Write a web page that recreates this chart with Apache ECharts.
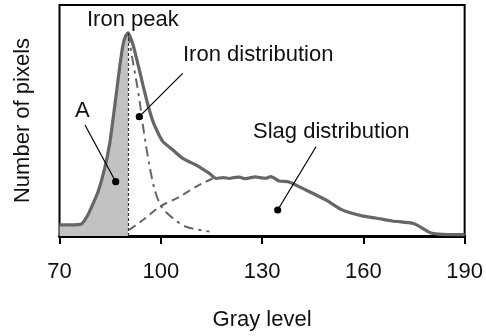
<!DOCTYPE html>
<html>
<head>
<meta charset="utf-8">
<script src="https://cdn.jsdelivr.net/npm/echarts@6/dist/echarts.min.js"></script>
<style>
html,body{margin:0;padding:0;background:#fff;}
#c{width:486px;height:336px;}
</style>
</head>
<body>
<div id="c"></div>
<script>
// Gray level ticks
var xTicks = [70, 100, 130, 160, 190];
// Total histogram (gray level, relative number of pixels)
var totalGray = [70, 73.1, 76.5, 78.4, 79.9, 81.4, 83.4, 84.9, 85.9, 86.9, 87.9, 88.8, 89.6, 90.3, 91.0, 91.8, 93.3, 94.7, 96.2, 97.7, 99.2, 100.6, 103.6, 106.5, 110.5, 114.4, 116.4, 118.5, 120.3, 122.0, 123.3, 125.0, 126.2, 128.0, 129.2, 131.0, 132.6, 135.1, 138.0, 143.0, 148.9, 153.7, 159.6, 163.7, 168.5, 174.4, 175.8, 179.4, 181.4, 185.3, 190];
var totalCount = [4.8, 4.8, 5.2, 9.1, 13.9, 19.0, 29.4, 40.3, 51.1, 62.5, 74.0, 82.7, 86.6, 87.9, 86.1, 82.7, 74.0, 65.4, 56.7, 49.5, 44.6, 40.9, 37.2, 33.6, 30.7, 27.1, 24.9, 25.3, 24.9, 25.4, 25.5, 24.8, 25.1, 25.6, 25.3, 25.0, 25.7, 23.8, 23.4, 19.9, 15.6, 11.3, 8.7, 7.8, 6.5, 5.6, 4.8, 1.7, 0.9, 0.6, 0.6];
// Iron distribution (dash-dot)
var ironGray = [90.3, 91.5, 92.8, 93.8, 94.7, 95.5, 96.7, 98.2, 100.2, 103.6, 107.5, 114.4];
var ironCount = [87.9, 77.5, 66.8, 57.6, 48.0, 40.3, 30.0, 20.0, 12.7, 7.7, 4.0, 1.9];
// Slag distribution (dashed)
var slagGray = [90.6, 94.7, 99.7, 105.6, 110.5, 115.4];
var slagCount = [2.6, 6.9, 12.7, 17.0, 21.4, 24.9];
// Iron peak position
var peakGray = 90.3;
var peakCount = 87.9;

function pairs(xs, ys){ return xs.map(function(x,i){ return [x, ys[i]]; }); }
var totalData = pairs(totalGray, totalCount);
var areaData = totalData.filter(function(p){ return p[0] <= peakGray; });

var FONT = '"Liberation Sans", Arial, sans-serif';
var chart = echarts.init(document.getElementById('c'), null, {renderer:'canvas'});
var lineCol = '#666666';
var option = {
  animation:false,
  grid:{left:59.5, right:19.5, top:5, bottom:100, show:true, borderColor:'#000', borderWidth:2, backgroundColor:'transparent'},
  xAxis:{type:'value', min:70, max:190, interval:30,
    name:'Gray level', nameLocation:'middle', nameGap:73,
    nameTextStyle:{fontSize:22, color:'#111', fontFamily:FONT},
    axisLine:{show:true, lineStyle:{color:'#000', width:3}},
    axisTick:{show:true, inside:false, length:8, lineStyle:{color:'#000', width:2}},
    axisLabel:{fontSize:22, color:'#111', fontFamily:FONT, margin:25},
    splitLine:{show:false}},
  yAxis:{type:'value', min:0, max:100,
    name:'Number of pixels', nameLocation:'middle', nameGap:26, nameRotate:90,
    nameTextStyle:{fontSize:22, color:'#111', fontFamily:FONT},
    axisLine:{show:false}, axisTick:{show:false}, axisLabel:{show:false}, splitLine:{show:false}},
  series:[
    {type:'line', data:areaData, symbol:'none', smooth:0.2, z:1,
      lineStyle:{width:0}, areaStyle:{color:'#c2c2c2', opacity:1},
      markLine:{silent:true, symbol:'none', label:{show:false},
        lineStyle:{color:'#333', width:1.2, type:[3,2]},
        data:[[{coord:[peakGray,0]},{coord:[peakGray,peakCount]}]]}},
    {type:'line', data:pairs(ironGray, ironCount), symbol:'none', smooth:0.3, z:2,
      lineStyle:{color:lineCol, width:2, type:[10,5,3,5]}},
    {type:'line', data:pairs(slagGray, slagCount), symbol:'none', smooth:0.3, z:2,
      lineStyle:{color:lineCol, width:2, type:[8,5]}},
    {type:'line', data:totalData, symbol:'none', smooth:0.2, z:3,
      lineStyle:{color:lineCol, width:3.2}}
  ],
  graphic:[
    {type:'text', left:87, top:9, style:{text:'Iron peak', font:'22px '+FONT, fill:'#111'}},
    {type:'text', left:183, top:44, style:{text:'Iron distribution', font:'22px '+FONT, fill:'#111'}},
    {type:'text', left:75, top:100, style:{text:'A', font:'22px '+FONT, fill:'#111'}},
    {type:'text', left:253, top:121, style:{text:'Slag distribution', font:'22px '+FONT, fill:'#111'}},
    {type:'line', shape:{x1:85,y1:125,x2:115.7,y2:181.7}, style:{stroke:'#000', lineWidth:1.2}, z:10},
    {type:'circle', shape:{cx:115.7, cy:181.7, r:3.6}, style:{fill:'#000'}, z:10},
    {type:'line', shape:{x1:182.7,y1:73.3,x2:139.3,y2:116.7}, style:{stroke:'#000', lineWidth:1.2}, z:10},
    {type:'circle', shape:{cx:139.3, cy:116.7, r:3.6}, style:{fill:'#000'}, z:10},
    {type:'line', shape:{x1:316,y1:146.7,x2:277.7,y2:210}, style:{stroke:'#000', lineWidth:1.2}, z:10},
    {type:'circle', shape:{cx:277.7, cy:210, r:3.6}, style:{fill:'#000'}, z:10}
  ]
};
chart.setOption(option);
</script>
</body>
</html>
